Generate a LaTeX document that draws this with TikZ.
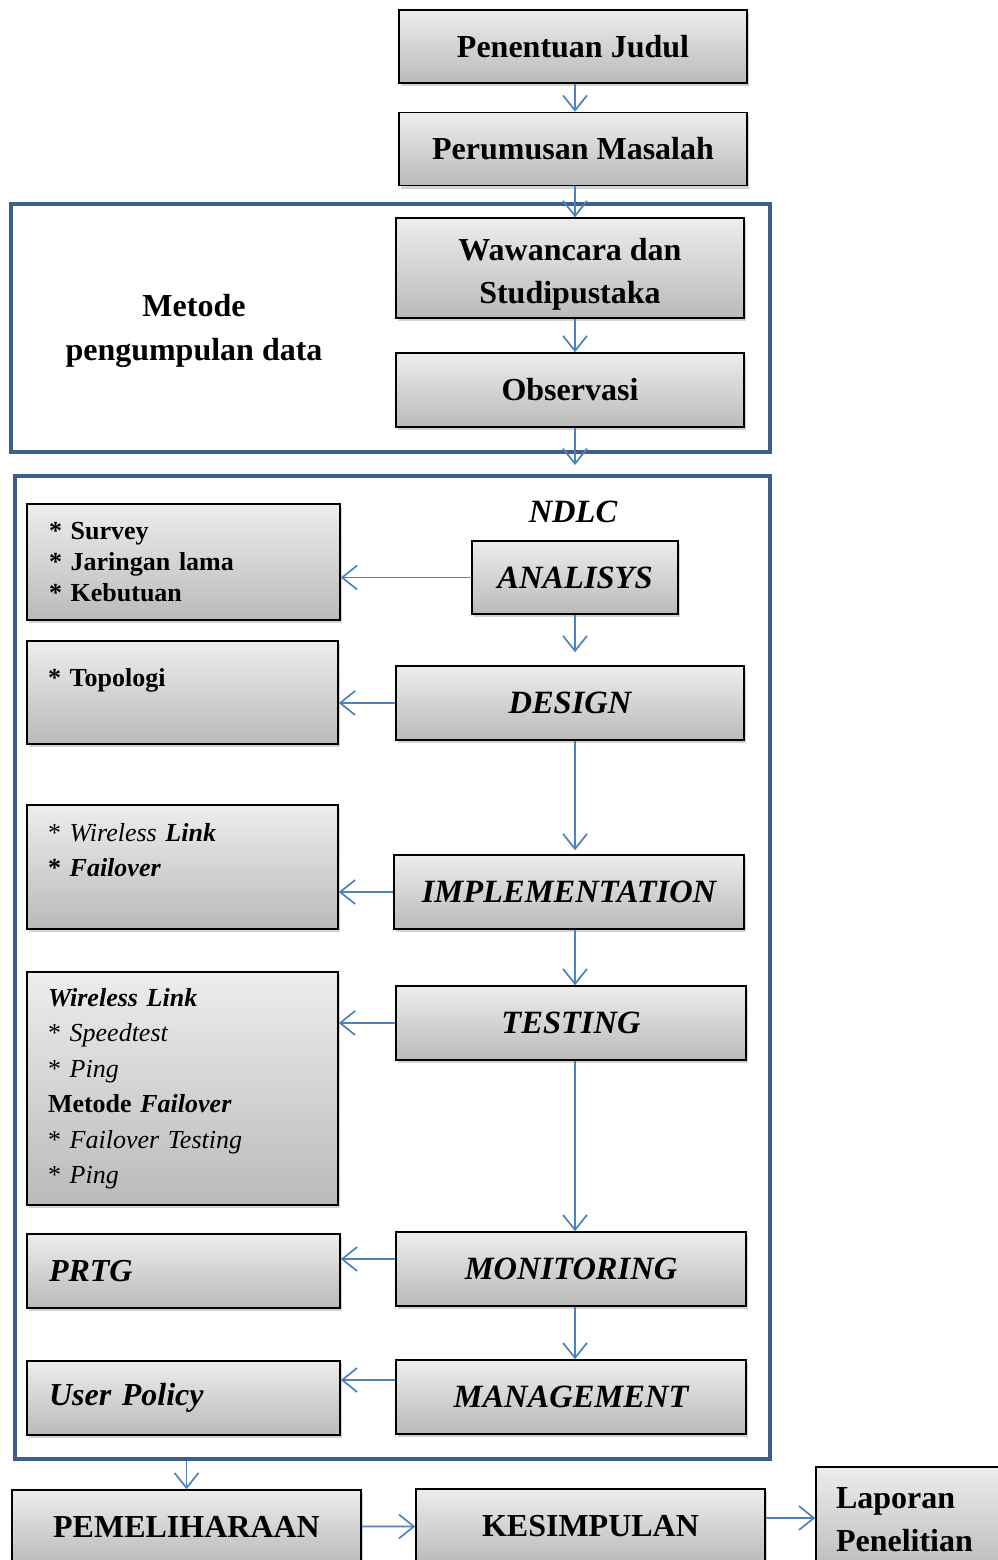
\documentclass[tikz,border=0pt]{standalone}
\usepackage{fontspec}
\setmainfont{Liberation Serif}
\usepackage{xcolor}
\usepackage{tikz}
\usetikzlibrary{shapes,arrows.meta,positioning,shadows,calc}

\definecolor{frameblue}{RGB}{62,94,140}
\definecolor{flowblue}{RGB}{79,129,189}

\tikzset{
  stepbox/.style={draw, line width=1.5pt, top color=black!7, bottom color=black!27,
    drop shadow={shadow xshift=2pt, shadow yshift=-3pt, opacity=0.35},
    inner sep=0pt, align=center, font=\fontsize{32}{43}\selectfont\bfseries},
  phasebox/.style={stepbox, font=\fontsize{32.5}{40}\selectfont\bfseries\itshape},
  notebox/.style={stepbox, inner xsep=21pt, text width=269pt, align=left,
    font=\fontsize{26}{31}\selectfont\bfseries},
  groupframe/.style={draw=frameblue, line width=4pt, inner sep=0pt},
  flow/.style={draw=flowblue, line width=1.7pt, -{Straight Barb[length=15pt,width=24pt]}}
}

\begin{document}
\begin{tikzpicture}[x=1pt, y=-1pt]
  \useasboundingbox (0,0) rectangle (998,1560);

  % frames
  \node[groupframe, minimum width=759pt, minimum height=248pt] (metodeframe) at (390.5,328) {};
  \node[groupframe, minimum width=755pt, minimum height=983pt] (ndlcframe) at (392.5,967.5) {};

  % top
  \node[stepbox, minimum width=348pt, minimum height=73pt] (judul) at (573,46.5) {Penentuan Judul};
  \node[stepbox, minimum width=348pt, minimum height=73pt, below=28pt of judul] (rumusan) {Perumusan Masalah};

  % metode pengumpulan data
  \node[align=center, font=\fontsize{32}{44}\selectfont\bfseries] (metode) at (194,331) {Metode\\pengumpulan data};
  \node[stepbox, minimum width=348pt, minimum height=100pt] (wawancara) at (570,268) {\rule{0pt}{34pt}Wawancara dan\\Studipustaka};
  \node[stepbox, minimum width=348pt, minimum height=74pt] (observasi) at (570,390) {Observasi};

  % NDLC
  \node[font=\fontsize{32.5}{40}\selectfont\bfseries\itshape] (ndlc) at (573,512) {NDLC};
  \node[phasebox, minimum width=206pt, minimum height=73pt] (analisys) at (575,577.5) {ANALISYS};
  \node[phasebox, minimum width=348pt, minimum height=74pt] (design) at (570,703) {DESIGN};
  \node[phasebox, minimum width=350pt, minimum height=74pt] (impl) at (569,892) {IMPLEMENTATION};
  \node[phasebox, minimum width=350pt, minimum height=74pt] (testing) at (571,1023) {TESTING};
  \node[phasebox, minimum width=350pt, minimum height=74pt] (monitoring) at (571,1269) {MONITORING};
  \node[phasebox, minimum width=350pt, minimum height=74pt] (management) at (571,1397) {MANAGEMENT};

  % notes
  \node[notebox, minimum width=313pt, minimum height=116pt] (survey) at (183.5,562) {{*} Survey\\{*} Jaringan lama\\{*} Kebutuan};
  \node[notebox, minimum width=311pt, minimum height=103pt] (topologi) at (182.5,692.5) {{*} Topologi\\\mbox{}};
  \node[notebox, font=\fontsize{26}{35}\selectfont, minimum width=311pt, minimum height=124pt] (wireless) at (182.5,867)
    {{*} \textit{Wireless} \textbf{\textit{Link}}\\\textbf{{*} \textit{Failover}}\\\mbox{}};
  \node[notebox, font=\fontsize{26}{35.5}\selectfont, minimum width=311pt, minimum height=233pt] (ujibox) at (182.5,1088.5)
    {\textbf{\textit{Wireless Link}}\\{*} \textit{Speedtest}\\{*} \textit{Ping}\\\textbf{Metode \textit{Failover}}\\{*} \textit{Failover Testing}\\{*} \textit{Ping}};
  \node[notebox, font=\fontsize{32}{40}\selectfont\bfseries\itshape, minimum width=313pt, minimum height=74pt] (prtg) at (183.5,1271) {PRTG};
  \node[notebox, font=\fontsize{32}{40}\selectfont\bfseries\itshape, minimum width=313pt, minimum height=74pt] (policy) at (183.5,1398) {User Policy};

  % bottom
  \node[stepbox, minimum width=349pt, minimum height=74pt] (pemeliharaan) at (186.5,1527) {PEMELIHARAAN};
  \node[stepbox, minimum width=349pt, minimum height=74pt] (kesimpulan) at (590.5,1526) {KESIMPULAN};
  \node[stepbox, inner xsep=20pt, text width=148pt, align=left, minimum width=188pt, minimum height=106pt] (laporan) at (910,1520) {Laporan\\Penelitian};

  % connectors
  \draw[flow] (judul.south -| analisys) -- (rumusan.north -| analisys);
  \draw[flow] (rumusan.south -| analisys) -- (wawancara.north -| analisys);
  \draw[flow] (wawancara.south -| analisys) -- (observasi.north -| analisys);
  \draw[flow, shorten >=9pt] (observasi.south -| analisys) -- (ndlcframe.north -| analisys);
  \draw[flow] (analisys) -- (analisys -| survey.east);
  \draw[flow, shorten >=13pt] (analisys) -- (analisys |- design.north);
  \draw[flow] (design) -- (design -| topologi.east);
  \draw[flow, shorten >=4pt] (design.south -| analisys) -- (impl.north -| analisys);
  \draw[flow] (impl) -- (impl -| wireless.east);
  \draw[flow] (impl.south -| analisys) -- (testing.north -| analisys);
  \draw[flow] (testing) -- (testing -| ujibox.east);
  \draw[flow] (testing.south -| analisys) -- (monitoring.north -| analisys);
  \draw[flow] ([yshift=10pt]monitoring.west) -- ([yshift=10pt]monitoring.west -| prtg.east);
  \draw[flow] (monitoring.south -| analisys) -- (management.north -| analisys);
  \draw[flow] ([yshift=17pt]management.west) -- ([yshift=17pt]management.west -| policy.east);
  \draw[flow] (pemeliharaan |- ndlcframe.south) -- (pemeliharaan);
  \draw[flow] (pemeliharaan) -- (kesimpulan);
  \draw[flow] ([yshift=8pt]kesimpulan.east) -- ([yshift=8pt]kesimpulan.east -| laporan.west);
\end{tikzpicture}
\end{document}
